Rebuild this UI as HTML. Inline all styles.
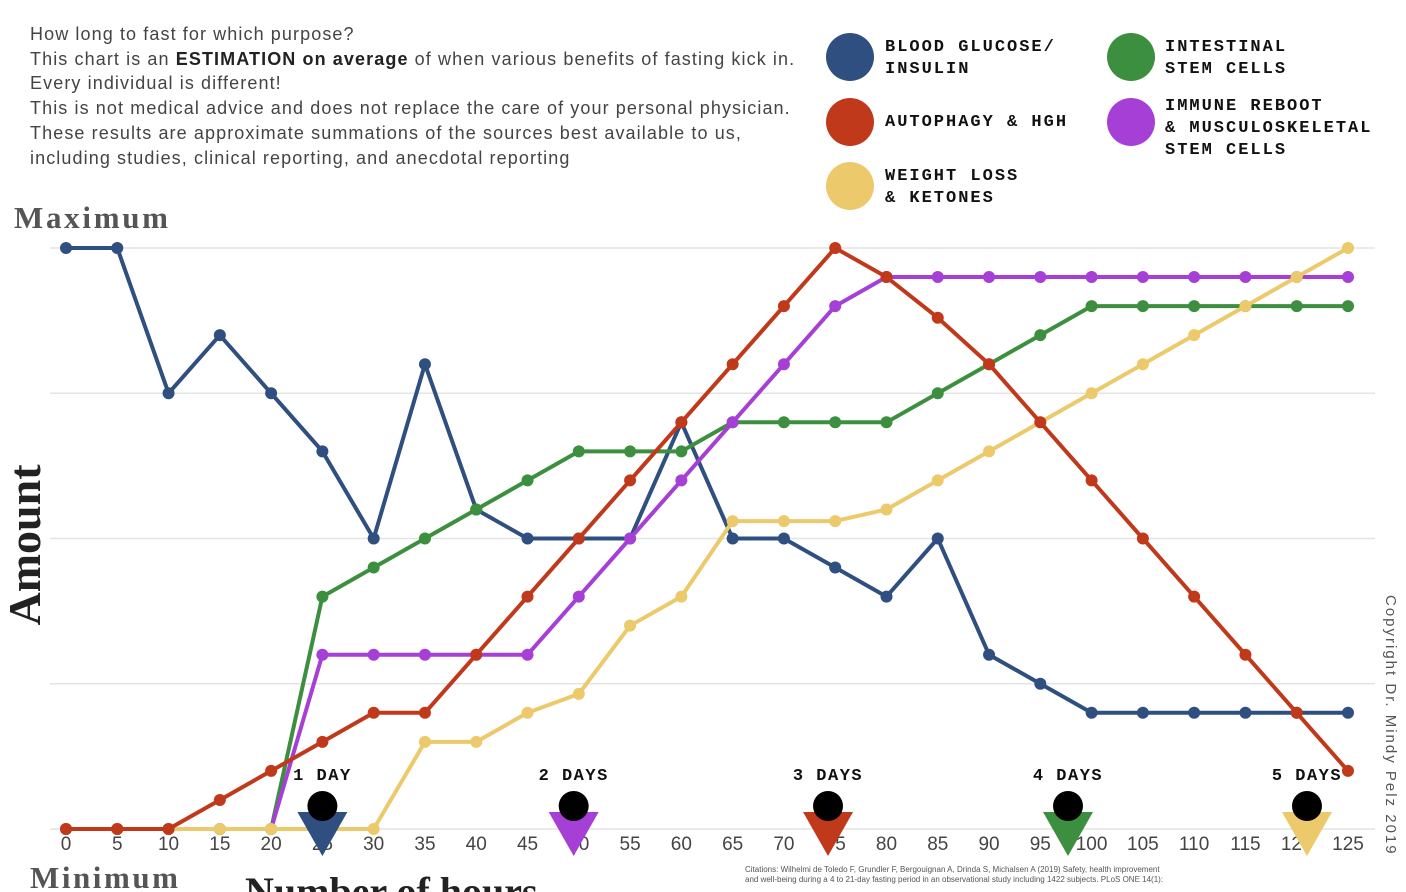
<!DOCTYPE html>
<html><head><meta charset="utf-8"><style>
body{margin:0;background:#fff;width:1406px;height:892px;overflow:hidden;font-family:"Liberation Sans",sans-serif}
.t{position:absolute;left:30px;top:22px;font-size:18px;line-height:24.7px;color:#444;letter-spacing:1.1px;white-space:nowrap}
.lg{position:absolute;font-family:"Liberation Mono",monospace;font-weight:bold;font-size:17px;letter-spacing:2px;line-height:22px;color:#111}
.dot{position:absolute;width:48px;height:48px;border-radius:50%}
</style></head><body>
<div class="t">How long to fast for which purpose?<br>This chart is an <b style="color:#222">ESTIMATION on average</b> of when various benefits of fasting kick in.<br>Every individual is different!<br>This is not medical advice and does not replace the care of your personal physician.<br>These results are approximate summations of the sources best available to us,<br>including studies, clinical reporting, and anecdotal reporting</div>
<div>
<div class="dot" style="left:826px;top:33px;background:#2e4f7f"></div>
<div class="lg" style="left:885px;top:37px">BLOOD GLUCOSE/<br>INSULIN</div>
<div class="dot" style="left:826px;top:98px;background:#c0391b"></div>
<div class="lg" style="left:885px;top:112px">AUTOPHAGY &amp; HGH</div>
<div class="dot" style="left:826px;top:162px;background:#ecc96a"></div>
<div class="lg" style="left:885px;top:166px">WEIGHT LOSS<br>&amp; KETONES</div>
<div class="dot" style="left:1107px;top:33px;background:#3c8f3e"></div>
<div class="lg" style="left:1165px;top:37px">INTESTINAL<br>STEM CELLS</div>
<div class="dot" style="left:1107px;top:98px;background:#a63fd6"></div>
<div class="lg" style="left:1165px;top:96px">IMMUNE REBOOT<br>&amp; MUSCULOSKELETAL<br>STEM CELLS</div>
</div>
<svg id="c" width="1406" height="892" style="position:absolute;left:0;top:0">
<text x="14" y="228" font-family="Liberation Serif" font-weight="bold" font-size="31" fill="#555" textLength="154">Maximum</text>
<text x="30" y="888" font-family="Liberation Serif" font-weight="bold" font-size="31" fill="#555" textLength="148">Minimum</text>
<text transform="translate(40,545) rotate(-90)" text-anchor="middle" font-family="Liberation Serif" font-weight="bold" font-size="46" fill="#222">Amount</text>
<text x="245" y="905" font-family="Liberation Serif" font-weight="bold" font-size="40" fill="#222">Number of hours</text>
<text transform="translate(1386,595) rotate(90)" font-size="15" fill="#555" letter-spacing="2">Copyright Dr. Mindy Pelz 2019</text>
<text x="745" y="872" font-size="8" fill="#555">Citations: Wilhelmi de Toledo F, Grundler F, Bergouignan A, Drinda S, Michalsen A (2019) Safety, health improvement</text>
<text x="745" y="882" font-size="8" fill="#555">and well-being during a 4 to 21-day fasting period in an observational study including 1422 subjects. PLoS ONE 14(1):</text>
<g id="g"></g>
</svg>
<script>
const hours=[0,5,10,15,20,25,30,35,40,45,50,55,60,65,70,75,80,85,90,95,100,105,110,115,120,125];
const yTicks=[0,5,10,15,20];
const blood=[20,20,15,17,15,13,10,16,11,10,10,10,14,10,10,9,8,10,6,5,4,4,4,4,4,4];
const autophagy=[0,0,0,1,2,3,4,4,6,8,10,12,14,16,18,20,19,17.6,16,14,12,10,8,6,4,2];
const intestinal=[0,0,0,0,0,8,9,10,11,12,13,13,13,14,14,14,14,15,16,17,18,18,18,18,18,18];
const immune=[0,0,0,0,0,6,6,6,6,6,8,10,12,14,16,18,19,19,19,19,19,19,19,19,19,19];
const weight=[0,0,0,0,0,0,0,3,3,4,4.65,7,8,10.6,10.6,10.6,11,12,13,14,15,16,17,18,19,20];
const dayLabels=["1 DAY","2 DAYS","3 DAYS","4 DAYS","5 DAYS"];
const dayHours=[25,49.5,74.3,97.7,121];
const dayColors=["#2e4f7f","#a63fd6","#c0391b","#3c8f3e","#ecc96a"];
const X=h=>66+h*(1348-66)/125, Y=v=>829-v*(829-248)/20;
const g=document.getElementById('g'),NS='http://www.w3.org/2000/svg';
function mk(t,a){const e=document.createElementNS(NS,t);for(const k in a)e.setAttribute(k,a[k]);g.appendChild(e);return e;}
yTicks.forEach(v=>{const l=mk('line',{x1:50,x2:1375,y1:Y(v),y2:Y(v),stroke:'#e4e4e4','stroke-width':1.5});

});
hours.forEach(h=>{const t=mk('text',{x:X(h),y:850,'text-anchor':'middle','font-size':19,fill:'#444'});t.textContent=h;

});
[[blood,'#2e4f7f','blood-glucose'],[intestinal,'#3c8f3e','intestinal'],[immune,'#a63fd6','immune'],[weight,'#ecc96a','weight-loss'],[autophagy,'#c0391b','autophagy']].forEach(([d,c,n])=>{
const p=mk('polyline',{points:d.map((v,i)=>X(hours[i])+','+Y(v)).join(' '),fill:'none',stroke:c,'stroke-width':4,'stroke-linejoin':'round'});


d.forEach((v,i)=>{const q=mk('circle',{cx:X(hours[i]),cy:Y(v),r:6,fill:c});

});});
dayHours.forEach((h,i)=>{const x=X(h);
const tri=mk('polygon',{points:`${x-25},812 ${x+25},812 ${x},856`,fill:dayColors[i]});


const c=mk('circle',{cx:x,cy:806,r:15,fill:'#000'});


const t=mk('text',{x:x,y:780,'text-anchor':'middle','font-family':'Liberation Mono','font-weight':'bold','font-size':17,'letter-spacing':1.5,fill:'#111'});t.textContent=dayLabels[i];

});
</script>
</body></html>
